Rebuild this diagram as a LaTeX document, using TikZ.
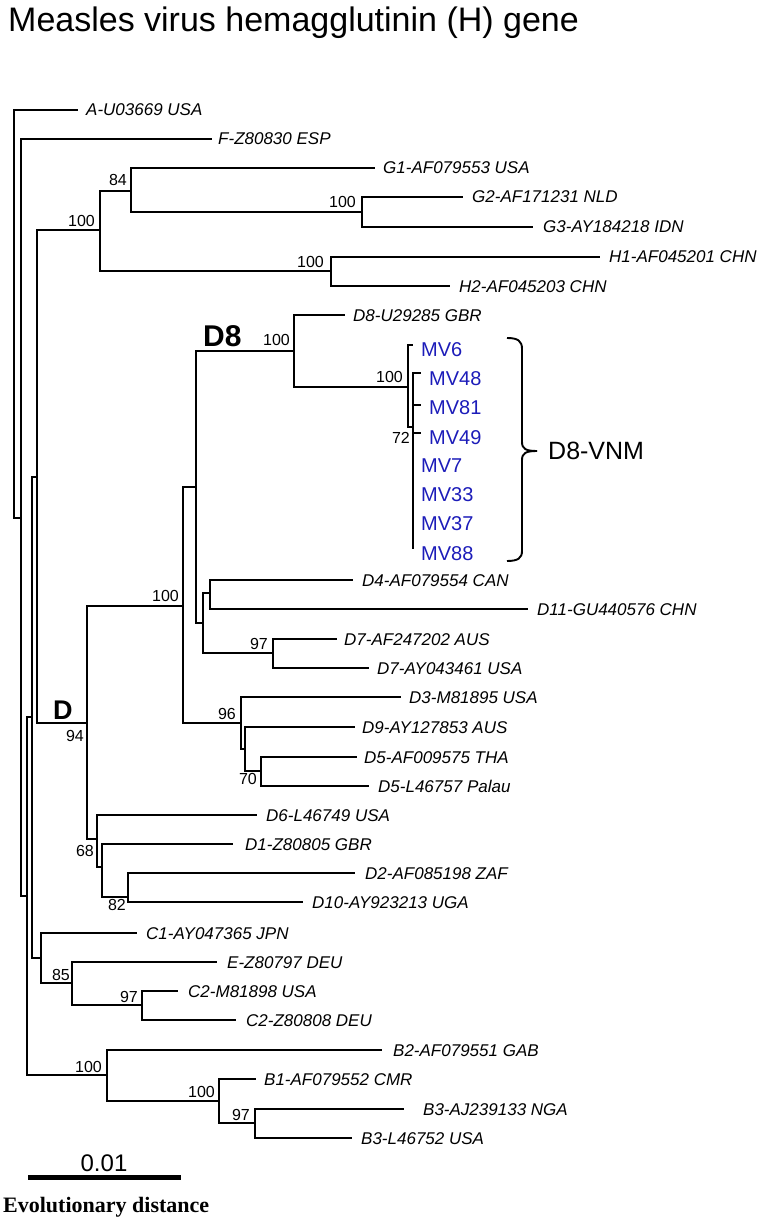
\documentclass[tikz,border=0pt]{standalone}
\usepackage{fontspec}
\setmainfont{Liberation Sans}
\newfontfamily\serifbold{Liberation Serif}
\definecolor{mvblue}{RGB}{28,28,185}
\newcommand{\tiplab}[5]{\coordinate (#1) at (#2,#3); \node[tip] (l#1) at (#4,#3+6) {#5};}
\newcommand{\mvlab}[4]{\node[mvtip] (#1) at (#2,#3+7) {#4};}
\begin{document}
\begin{tikzpicture}[x=1pt,y=-1pt,
  br/.style={line width=2.1pt, line join=miter},
  tip/.style={anchor=base west, inner sep=0pt, font=\itshape\fontsize{17}{17}\selectfont},
  mvtip/.style={anchor=base west, inner sep=0pt, text=mvblue, font=\fontsize{20}{20}\selectfont},
  bs/.style={inner sep=0pt, font=\fontsize{16}{16}\selectfont},
  clade/.style={anchor=base west, inner sep=0pt, font=\bfseries\fontsize{30}{30}\selectfont}]
\useasboundingbox (0,0) rectangle (762,1222);
% title
\node[anchor=base west, inner sep=0pt, font=\fontsize{34}{34}\selectfont] (title) at (8,32) {Measles virus hemagglutinin (H) gene};
% internal nodes
\coordinate (root) at (14,314);
\coordinate (n1) at (21,518);
\coordinate (n2) at (27,896);
\coordinate (n3) at (32,717);
\coordinate (n4) at (37,477);
\coordinate (nGH) at (100,230);
\coordinate (nG) at (131,191);
\coordinate (nG23) at (362,212);
\coordinate (nH) at (331,271);
\coordinate (nD) at (87,723);
\coordinate (nD100) at (183,606);
\coordinate (nD8a) at (196,487);
\coordinate (nD8) at (294,351);
\coordinate (nMV) at (408,387);
\coordinate (n72) at (413,427);
\coordinate (mvbot) at (413,549);
\coordinate (mv6s) at (413,345);
\coordinate (mv48s) at (421,373);
\coordinate (mv81s) at (421,405);
\coordinate (mv49s) at (421,433);
\coordinate (nD4a) at (203,623);
\coordinate (nD4) at (210,593);
\coordinate (n97) at (273,653);
\coordinate (n96) at (241,723);
\coordinate (n96b) at (245,749);
\coordinate (n70) at (261,771);
\coordinate (n68) at (97,839);
\coordinate (n68b) at (102,867);
\coordinate (n82) at (128,897);
\coordinate (nC) at (41,958);
\coordinate (n85) at (72,983);
\coordinate (n97c) at (142,1005);
\coordinate (nB) at (107,1075);
\coordinate (nB100) at (219,1101);
\coordinate (n97b) at (255,1123);
% tips
\tiplab{A}{78}{110}{86}{A-U03669 USA}
\tiplab{F}{212}{139}{218}{F-Z80830 ESP}
\tiplab{G1}{375}{168}{383}{G1-AF079553 USA}
\tiplab{G2}{463}{197}{472}{G2-AF171231 NLD}
\tiplab{G3}{533}{227}{543}{G3-AY184218 IDN}
\tiplab{H1}{600}{257}{609}{H1-AF045201 CHN}
\tiplab{H2}{450}{286}{459}{H2-AF045203 CHN}
\tiplab{D8U}{345}{315}{353}{D8-U29285 GBR}
\tiplab{D4}{353}{580}{362}{D4-AF079554 CAN}
\tiplab{D11}{528}{609}{537}{D11-GU440576 CHN}
\tiplab{D7a}{337}{639}{344}{D7-AF247202 AUS}
\tiplab{D7b}{369}{668}{377}{D7-AY043461 USA}
\tiplab{D3}{401}{697}{409}{D3-M81895 USA}
\tiplab{D9}{355}{727}{362}{D9-AY127853 AUS}
\tiplab{D5a}{357}{757}{364}{D5-AF009575 THA}
\tiplab{D5b}{369}{786}{378}{D5-L46757 Palau}
\tiplab{D6}{257}{815}{266}{D6-L46749 USA}
\tiplab{D1}{233}{844}{245}{D1-Z80805 GBR}
\tiplab{D2}{355}{873}{365}{D2-AF085198 ZAF}
\tiplab{D10}{303}{902}{312}{D10-AY923213 UGA}
\tiplab{C1}{137}{933}{146}{C1-AY047365 JPN}
\tiplab{E}{217}{962}{227}{E-Z80797 DEU}
\tiplab{C2a}{178}{991}{188}{C2-M81898 USA}
\tiplab{C2b}{236}{1020}{246}{C2-Z80808 DEU}
\tiplab{B2}{382}{1050}{393}{B2-AF079551 GAB}
\tiplab{B1}{256}{1079}{264}{B1-AF079552 CMR}
\tiplab{B3a}{404}{1109}{423}{B3-AJ239133 NGA}
\tiplab{B3b}{352}{1138}{361}{B3-L46752 USA}
% MV labels
\mvlab{MV6}{421}{349}{MV6}
\mvlab{MV48}{429}{378}{MV48}
\mvlab{MV81}{429}{407}{MV81}
\mvlab{MV49}{429}{437}{MV49}
\mvlab{MV7}{421}{465}{MV7}
\mvlab{MV33}{421}{494}{MV33}
\mvlab{MV37}{421}{523}{MV37}
\mvlab{MV88}{421}{553}{MV88}
% branches
\draw[br] (root) |- (A);
\draw[br] (root) |- (n1);
\draw[br] (n1) |- (F);
\draw[br] (n1) |- (n2);
\draw[br] (n2) |- (n3);
\draw[br] (n2) |- (nB);
\draw[br] (n3) |- (n4);
\draw[br] (n3) |- (nC);
\draw[br] (n4) |- (nGH);
\draw[br] (n4) |- (nD);
\draw[br] (nGH) |- (nG);
\draw[br] (nGH) |- (nH);
\draw[br] (nG) |- (G1);
\draw[br] (nG) |- (nG23);
\draw[br] (nG23) |- (G2);
\draw[br] (nG23) |- (G3);
\draw[br] (nH) |- (H1);
\draw[br] (nH) |- (H2);
\draw[br] (nD) |- (nD100);
\draw[br] (nD) |- (n68);
\draw[br] (nD100) |- (nD8a);
\draw[br] (nD100) |- (n96);
\draw[br] (nD8a) |- (nD8);
\draw[br] (nD8a) |- (nD4a);
\draw[br] (nD8) |- (D8U);
\draw[br] (nD8) |- (nMV);
\draw[br] (nMV) |- (mv6s);
\draw[br] (nMV) |- (n72);
\draw[br] (n72) |- (mv48s);
\draw[br] (n72) |- (mv81s);
\draw[br] (n72) |- (mv49s);
\draw[br] (n72) -- (mvbot);
\draw[br] (nD4a) |- (nD4);
\draw[br] (nD4a) |- (n97);
\draw[br] (nD4) |- (D4);
\draw[br] (nD4) |- (D11);
\draw[br] (n97) |- (D7a);
\draw[br] (n97) |- (D7b);
\draw[br] (n96) |- (D3);
\draw[br] (n96) |- (n96b);
\draw[br] (n96b) |- (D9);
\draw[br] (n96b) |- (n70);
\draw[br] (n70) |- (D5a);
\draw[br] (n70) |- (D5b);
\draw[br] (n68) |- (D6);
\draw[br] (n68) |- (n68b);
\draw[br] (n68b) |- (D1);
\draw[br] (n68b) |- (n82);
\draw[br] (n82) |- (D2);
\draw[br] (n82) |- (D10);
\draw[br] (nC) |- (C1);
\draw[br] (nC) |- (n85);
\draw[br] (n85) |- (E);
\draw[br] (n85) |- (n97c);
\draw[br] (n97c) |- (C2a);
\draw[br] (n97c) |- (C2b);
\draw[br] (nB) |- (B2);
\draw[br] (nB) |- (nB100);
\draw[br] (nB100) |- (B1);
\draw[br] (nB100) |- (n97b);
\draw[br] (n97b) |- (B3a);
\draw[br] (n97b) |- (B3b);
% bootstrap values
\node[bs, anchor=south east] (bGH) at (95,227) {100};
\node[bs, anchor=south east] (bG) at (127,186) {84};
\node[bs, anchor=south east] (bG23) at (356,208) {100};
\node[bs, anchor=south east] (bH) at (324,268) {100};
\node[bs, anchor=south east] (bD8) at (290,346) {100};
\node[bs, anchor=south east] (bMV) at (403,383) {100};
\node[bs, anchor=north east] (b72) at (410,432) {72};
\node[bs, anchor=south east] (bD100) at (179,602) {100};
\node[bs, anchor=south east] (b97) at (268,650) {97};
\node[bs, anchor=south east] (b96) at (236,720) {96};
\node[bs, anchor=north east] (b70) at (257,773) {70};
\node[bs, anchor=north east] (b94) at (84,730) {94};
\node[bs, anchor=north east] (b68) at (94,845) {68};
\node[bs, anchor=north east] (b82) at (126,899) {82};
\node[bs, anchor=south east] (b85) at (70,981) {85};
\node[bs, anchor=south east] (b97c) at (138,1003) {97};
\node[bs, anchor=south east] (bB) at (102,1073) {100};
\node[bs, anchor=south east] (bB100) at (215,1098) {100};
\node[bs, anchor=south east] (b97b) at (250,1121) {97};
% clade labels
\node[clade] (cD8) at (203,346) {D8};
\node[clade, font=\bfseries\fontsize{27}{27}\selectfont] (cD) at (53,719) {D};
% bracket
\coordinate (brtop) at (507,338);
\coordinate (brtip) at (537,451);
\coordinate (brbot) at (507,561);
\draw[line width=1.9pt] (brtop) .. controls (518,338) and (522,341) .. (522,349) -- (522,442) .. controls (522,449) and (526,451) .. (brtip);
\draw[line width=1.9pt] (brtip) .. controls (526,451) and (522,453) .. (522,460) -- (522,551) .. controls (522,558) and (518,561) .. (brbot);
\node[anchor=west, inner sep=0pt, font=\fontsize{25}{25}\selectfont] (vnm) at (548,451) {D8-VNM};
% scale bar
\coordinate (sb1) at (28,1177);
\coordinate (sb2) at (181,1177);
\draw[line width=5pt] (sb1) -- (sb2);
\node[anchor=base, inner sep=0pt, font=\fontsize{24}{24}\selectfont] (sbl) at (104,1171) {0.01};
\node[anchor=base west, inner sep=0pt, font=\serifbold\bfseries\fontsize{22}{22}\selectfont] (evd) at (3,1212) {Evolutionary distance};
\end{tikzpicture}
\end{document}
